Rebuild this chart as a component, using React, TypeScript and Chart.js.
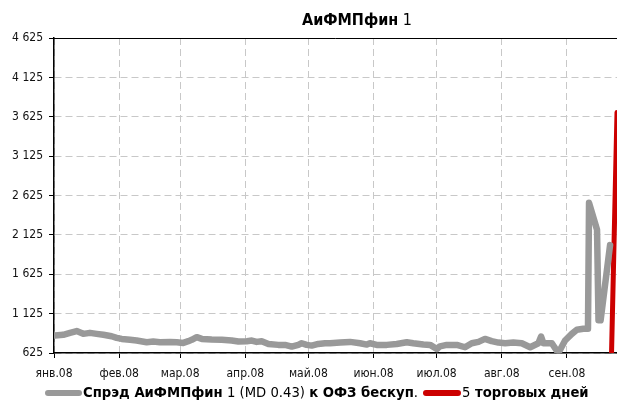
import React, { useEffect, useRef } from "react";
import { Chart, registerables } from "chart.js";

Chart.register(...registerables);

const FONT = "'Liberation Sans Narrow', 'Arial Narrow', 'DejaVu Sans Condensed', 'Roboto', sans-serif";

// Month tick positions (days since 1 Jan 2008) and labels
const monthStartDays = [0, 31, 60, 91, 121, 152, 182, 213, 244];
const monthLabels = ["янв.08", "фев.08", "мар.08", "апр.08", "май.08", "июн.08", "июл.08", "авг.08", "сен.08"];

// Y axis
const yMin = 625;
const yMax = 4625;
const yStep = 500;
const xMin = 0;
const xMax = 267.8;

// Spread series (days since 1 Jan 2008, bp)
const spreadDays = [
  0.5, 4.4, 7.6, 10.8, 13.9, 17.1, 20.3, 23.5, 27.4, 29.8, 32.2, 36.2, 39.3, 44.1, 47.2, 50.4, 55.2, 58.4, 61.5, 63.9,
  65.5, 67.9, 70.3, 75.0, 79.8, 84.5, 87.7, 91.7, 94.1, 96.4, 98.8, 102.0, 106.7, 109.9, 113.1, 116.2, 117.8, 120.2, 122.6, 125.7, 128.9,
  131.3, 136.1, 140.8, 145.6, 148.8, 150.3, 153.5, 158.3, 163.0, 167.8, 170.9, 175.7, 178.9, 182.1, 183.6, 186.8, 191.6,
  195.5, 198.7, 201.9, 205.0, 208.2, 211.4, 214.6, 218.5, 222.5, 226.5, 230.4, 231.7, 232.8, 236.8, 239.9, 243.1, 246.3, 248.7, 251.8,
  254.0, 254.5, 258.3, 259.0, 260.0, 264.5,
];
const spreadValues = [
  847, 856, 881, 903, 868, 881, 868, 856, 838, 817, 804, 792, 783, 762, 770, 762, 766, 762, 753, 775,
  792, 826, 804, 796, 792, 783, 770, 775, 783, 766, 775, 740, 728, 728, 706, 728, 749, 728, 719, 740, 749,
  749, 757, 766, 749, 732, 749, 728, 728, 740, 762, 749, 732, 728, 676, 710, 728, 728,
  698, 749, 766, 804, 775, 757, 749, 757, 749, 698, 749, 834, 749, 749, 625, 783, 868, 920, 933,
  933, 2532, 2190, 1040, 1040, 1995,
];

// Last 5 trading days
const recentDays = [265.2, 267.8];
const recentValues = [625, 3680];

const GRAY = "#999999";
const RED = "#cc0000";

const fmt = (v: number) => String(v).replace(/\B(?=(\d{3})+(?!\d))/g, " ");

type Piece = { t: string; b: boolean };

function drawPieces(ctx: CanvasRenderingContext2D, pieces: Piece[], x: number, y: number, size: number) {
  let cx = x;
  for (const p of pieces) {
    ctx.font = `${p.b ? "bold " : ""}${size}px ${FONT}`;
    ctx.fillText(p.t, cx, y);
    cx += ctx.measureText(p.t).width;
  }
  return cx;
}

function measurePieces(ctx: CanvasRenderingContext2D, pieces: Piece[], size: number) {
  let w = 0;
  for (const p of pieces) {
    ctx.font = `${p.b ? "bold " : ""}${size}px ${FONT}`;
    w += ctx.measureText(p.t).width;
  }
  return w;
}

const titlePieces: Piece[] = [
  { t: "АиФМПфин", b: true },
  { t: " 1", b: false },
];
const legendPieces1: Piece[] = [
  { t: "Спрэд АиФМПфин", b: true },
  { t: " 1 (MD 0.43) ", b: false },
  { t: "к ОФЗ бескуп", b: true },
  { t: ".", b: false },
];
const legendPieces2: Piece[] = [
  { t: "5", b: false },
  { t: " торговых дней", b: true },
];

const decorPlugin = {
  id: "decor",
  afterDraw(chart: any) {
    const ctx: CanvasRenderingContext2D = chart.ctx;
    const a = chart.chartArea;
    ctx.save();
    // top frame line
    ctx.strokeStyle = "#000";
    ctx.lineWidth = 1;
    ctx.beginPath();
    ctx.moveTo(a.left, Math.round(a.top) + 0.5);
    ctx.lineTo(a.right, Math.round(a.top) + 0.5);
    ctx.stroke();

    ctx.fillStyle = "#000";
    ctx.textBaseline = "middle";
    ctx.textAlign = "left";
    // title
    const tSize = 16;
    const tw = measurePieces(ctx, titlePieces, tSize);
    drawPieces(ctx, titlePieces, 357 - tw / 2, 21, tSize);

    // legend
    const ly = 393;
    const lSize = 14.7;
    let x = 45;
    ctx.lineCap = "round";
    ctx.lineWidth = 6;
    ctx.strokeStyle = GRAY;
    ctx.beginPath();
    ctx.moveTo(x + 3, ly);
    ctx.lineTo(x + 34, ly);
    ctx.stroke();
    x = drawPieces(ctx, legendPieces1, x + 38, ly, lSize);
    x += 5;
    ctx.strokeStyle = RED;
    ctx.beginPath();
    ctx.moveTo(x + 3, ly);
    ctx.lineTo(x + 35, ly);
    ctx.stroke();
    drawPieces(ctx, legendPieces2, x + 39, ly, lSize);
    ctx.restore();
  },
};

export default function App() {
  const ref = useRef<HTMLCanvasElement | null>(null);

  useEffect(() => {
    if (!ref.current) return;
    const spread = spreadDays.map((d, i) => ({ x: d, y: spreadValues[i] }));
    const recent = recentDays.map((d, i) => ({ x: d, y: recentValues[i] }));
    const yTicks: number[] = [];
    for (let v = yMin; v <= yMax; v += yStep) yTicks.push(v);

    const chart = new Chart(ref.current, {
      type: "line",
      data: {
        datasets: [
          {
            label: "Спрэд АиФМПфин 1 (MD 0.43) к ОФЗ бескуп.",
            data: spread,
            borderColor: GRAY,
            backgroundColor: GRAY,
            borderWidth: 6.5,
            pointRadius: 0,
            tension: 0,
            borderJoinStyle: "round",
            borderCapStyle: "round",
          },
          {
            label: "5 торговых дней",
            data: recent,
            borderColor: RED,
            backgroundColor: RED,
            borderWidth: 5,
            pointRadius: 0,
            tension: 0,
            borderCapStyle: "round",
          },
        ],
      },
      options: {
        animation: false,
        responsive: true,
        maintainAspectRatio: false,
        layout: { padding: { top: 38, bottom: 22, left: 0, right: 0 } },
        plugins: {
          legend: { display: false },
          title: { display: false },
          tooltip: { enabled: false },
        },
        scales: {
          x: {
            type: "linear",
            min: xMin,
            max: xMax,
            afterBuildTicks: (scale: any) => {
              scale.ticks = monthStartDays.map((v) => ({ value: v }));
            },
            afterFit: (scale: any) => {
              scale.height = 30;
            },
            ticks: {
              autoSkip: false,
              maxRotation: 0,
              padding: 9,
              color: "#111",
              font: { family: FONT, size: 12 },
              callback: (v: any) => {
                const i = monthStartDays.indexOf(Number(v));
                return i >= 0 ? monthLabels[i] : "";
              },
            },
            grid: {
              color: "#c8c8c8",
              lineWidth: 1,
              tickColor: "#000",
              tickLength: 5,
              tickBorderDash: [],
            },
            border: { display: true, color: "#000", width: 1.5, dash: [7, 4] },
          },
          y: {
            type: "linear",
            min: yMin,
            max: yMax,
            afterBuildTicks: (scale: any) => {
              scale.ticks = yTicks.map((v) => ({ value: v }));
            },
            afterFit: (scale: any) => {
              scale.width = 54;
            },
            ticks: {
              padding: 6,
              color: "#111",
              font: { family: FONT, size: 12 },
              callback: (v: any) => fmt(Number(v)),
            },
            grid: {
              color: "#c8c8c8",
              lineWidth: 1,
              tickColor: "#000",
              tickLength: 5,
              tickBorderDash: [],
            },
            border: { display: true, color: "#000", width: 1.5, dash: [7, 4] },
          },
        },
      },
      plugins: [decorPlugin],
    } as any);
    return () => chart.destroy();
  }, []);

  return (
    <div style={{ position: "absolute", left: 0, top: 0, width: 617, height: 405, background: "#fff" }}>
      <canvas ref={ref} />
    </div>
  );
}
